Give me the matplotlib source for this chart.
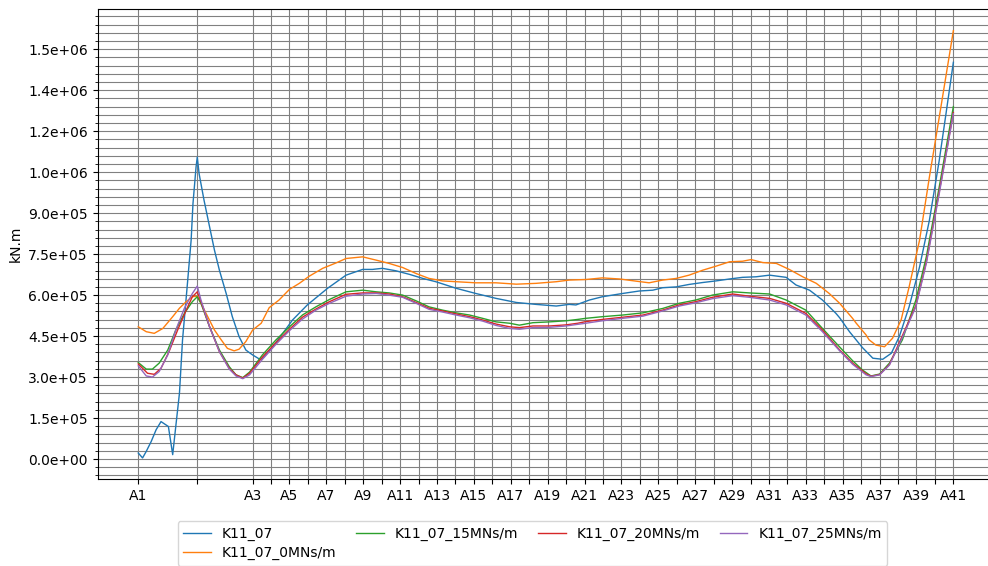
import matplotlib

matplotlib.use("Agg")
import matplotlib.pyplot as plt
from matplotlib.ticker import FixedLocator, FormatStrFormatter, MultipleLocator

# support chainage along the deck (m) and their names
support_x = [0, 96, 186, 216, 246, 276, 306, 336, 366, 396, 426, 456, 486, 516,
             546, 576, 606, 636, 666, 696, 726, 756, 786, 816, 846, 876, 906,
             936, 966, 996, 1026, 1056, 1086, 1116, 1146, 1176, 1206, 1236,
             1266, 1296, 1326]
support_labels = [f"A{i}" if i % 2 else "" for i in range(1, len(support_x) + 1)]

# bending moment envelopes (kN.m) per case
x_k11 = [0, 7, 13, 21, 29, 37, 45, 49, 56, 61, 67, 72, 80, 86, 89, 94, 96, 99,
         107, 116, 124, 132, 143, 153, 164, 175, 181, 186, 197, 200, 205, 219,
         235, 251, 275, 308, 338, 365, 381, 397, 419, 441, 463, 484, 517, 549,
         582, 615, 647, 680, 701, 712, 734, 755, 788, 815, 837, 853, 875, 896,
         918, 940, 962, 983, 1005, 1027, 1054, 1070, 1092, 1113, 1135, 1141,
         1157, 1178, 1195, 1211, 1225, 1238, 1254, 1271, 1287, 1303, 1314, 1326]
m_k11 = [22000, 4000, 28000, 64000, 107000, 137000, 125000, 119000, 16000,
         119000, 241000, 436000, 643000, 801000, 935000, 1069000, 1105000,
         1044000, 947000, 850000, 764000, 691000, 606000, 521000, 448000,
         399000, 389000, 381000, 366000, 365000, 375000, 411000, 460000,
         509000, 564000, 625000, 673000, 694000, 694000, 698000, 689000,
         676000, 661000, 649000, 625000, 606000, 588000, 573000, 566000,
         560000, 566000, 564000, 582000, 594000, 606000, 615000, 618000,
         627000, 630000, 639000, 646000, 652000, 659000, 665000, 667000,
         673000, 665000, 637000, 618000, 582000, 533000, 517000, 466000,
         408000, 369000, 365000, 387000, 448000, 557000, 703000, 874000,
         1093000, 1264000, 1452000]

x_0mns = [0, 13, 26, 40, 56, 67, 78, 88, 96, 102, 113, 124, 135, 145, 156, 164,
          175, 186, 200, 213, 229, 246, 262, 278, 300, 322, 338, 365, 387, 408,
          430, 452, 473, 495, 517, 549, 582, 615, 647, 680, 701, 728, 755, 783,
          810, 831, 853, 875, 896, 918, 940, 962, 983, 997, 1016, 1038, 1059,
          1081, 1103, 1124, 1141, 1162, 1168, 1184, 1189, 1200, 1214, 1227,
          1241, 1254, 1271, 1287, 1303, 1326]
m_0mns = [484000, 466000, 460000, 478000, 521000, 552000, 576000, 594000,
          596000, 570000, 521000, 472000, 436000, 405000, 396000, 402000,
          430000, 472000, 497000, 554000, 582000, 621000, 643000, 669000,
          698000, 718000, 734000, 740000, 728000, 716000, 701000, 679000,
          661000, 652000, 649000, 645000, 645000, 640000, 643000, 649000,
          655000, 657000, 663000, 659000, 651000, 645000, 655000, 661000,
          673000, 691000, 706000, 722000, 724000, 730000, 719000, 716000,
          694000, 667000, 643000, 606000, 570000, 515000, 497000, 454000,
          436000, 417000, 411000, 442000, 509000, 630000, 801000, 1032000,
          1251000, 1568000]

x_15mns = [0, 13, 23, 34, 48, 61, 75, 88, 96, 102, 116, 132, 148, 159, 170,
           181, 202, 224, 246, 267, 289, 311, 338, 365, 387, 408, 430, 452,
           473, 495, 517, 539, 560, 582, 604, 620, 642, 669, 696, 715, 728,
           755, 788, 821, 853, 880, 907, 934, 967, 994, 1027, 1054, 1086, 1113,
           1141, 1162, 1178, 1192, 1206, 1222, 1243, 1265, 1282, 1303, 1326]
m_15mns = [353000, 329000, 329000, 351000, 399000, 472000, 533000, 576000,
           594000, 570000, 484000, 399000, 338000, 308000, 298000, 318000,
           381000, 436000, 484000, 527000, 557000, 584000, 612000, 618000,
           612000, 608000, 600000, 579000, 557000, 545000, 535000, 527000,
           515000, 502000, 497000, 490000, 499000, 502000, 506000, 511000,
           515000, 521000, 527000, 535000, 551000, 570000, 582000, 600000,
           612000, 608000, 604000, 582000, 545000, 478000, 410000, 360000,
           326000, 304000, 311000, 351000, 436000, 582000, 740000, 996000,
           1290000]

x_20mns = [0, 15, 26, 37, 50, 64, 78, 88, 96, 102, 116, 132, 148, 159, 170,
           181, 202, 224, 246, 267, 289, 311, 338, 365, 387, 408, 430, 452,
           473, 495, 517, 539, 560, 582, 604, 620, 642, 669, 696, 715, 728,
           755, 788, 821, 853, 880, 907, 934, 967, 994, 1027, 1054, 1086, 1113,
           1141, 1162, 1184, 1192, 1206, 1222, 1238, 1265, 1282, 1303, 1326]
m_20mns = [348000, 314000, 310000, 332000, 393000, 472000, 545000, 594000,
           612000, 576000, 484000, 393000, 332000, 308000, 296000, 314000,
           373000, 426000, 475000, 519000, 549000, 576000, 603000, 608000,
           608000, 604000, 594000, 573000, 552000, 542000, 531000, 521000,
           509000, 494000, 484000, 481000, 487000, 487000, 491000, 497000,
           503000, 511000, 519000, 527000, 545000, 564000, 576000, 592000,
           604000, 596000, 588000, 570000, 533000, 472000, 399000, 351000,
           312000, 303000, 309000, 346000, 426000, 562000, 722000, 978000,
           1268000]

x_25mns = [0, 13, 23, 34, 48, 61, 75, 88, 96, 102, 116, 132, 148, 159, 170,
           181, 202, 224, 246, 267, 289, 311, 338, 365, 387, 408, 430, 452,
           473, 495, 517, 539, 560, 582, 604, 620, 642, 669, 696, 715, 728,
           755, 788, 821, 853, 880, 907, 934, 967, 994, 1027, 1054, 1086, 1113,
           1141, 1162, 1184, 1192, 1206, 1222, 1238, 1265, 1282, 1303, 1326]
m_25mns = [341000, 304000, 300000, 320000, 381000, 472000, 552000, 606000,
           633000, 582000, 484000, 393000, 329000, 304000, 294000, 308000,
           365000, 420000, 470000, 512000, 545000, 570000, 596000, 604000,
           606000, 600000, 592000, 570000, 548000, 538000, 527000, 517000,
           505000, 489000, 478000, 475000, 481000, 482000, 487000, 493000,
           497000, 506000, 515000, 523000, 542000, 560000, 572000, 587000,
           598000, 592000, 582000, 564000, 527000, 466000, 396000, 347000,
           308000, 302000, 308000, 344000, 420000, 557000, 716000, 971000,
           1264000]

series = [
    ("K11_07", x_k11, m_k11),
    ("K11_07_0MNs/m", x_0mns, m_0mns),
    ("K11_07_15MNs/m", x_15mns, m_15mns),
    ("K11_07_20MNs/m", x_20mns, m_20mns),
    ("K11_07_25MNs/m", x_25mns, m_25mns),
]

fig = plt.figure(figsize=(9.88, 5.66), dpi=100)
ax = fig.add_axes([0.0987, 0.1532, 0.9075, 0.8304])

for label, xs, ms in series:
    ax.plot(xs, ms, lw=1.0, label=label)

ax.xaxis.set_major_locator(FixedLocator(support_x))
ax.set_xticklabels(support_labels)
ax.yaxis.set_major_locator(MultipleLocator(150000))
ax.yaxis.set_minor_locator(MultipleLocator(30000))
ax.yaxis.set_major_formatter(FormatStrFormatter("%.1e"))
ax.grid(which="both", color="gray", lw=0.8)
ax.set_ylabel("kN.m")

fig.legend(loc="upper center", bbox_to_anchor=(0.539, 0.091), ncol=4,
           columnspacing=1.4, labelspacing=0.35)

fig.savefig("out.png", dpi=100)
